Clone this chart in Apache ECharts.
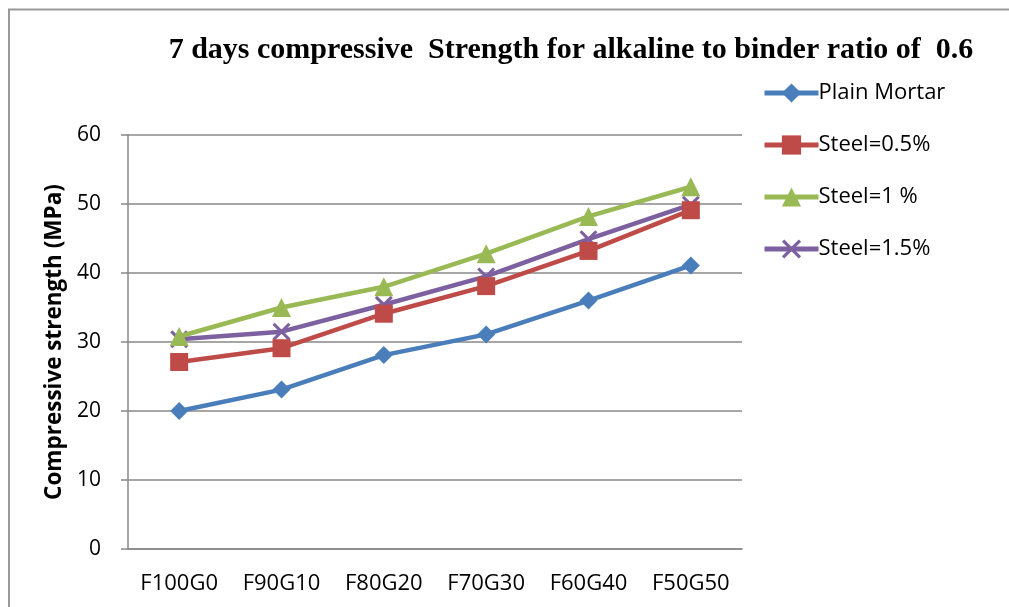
<!DOCTYPE html>
<html><head><meta charset="utf-8">
<script src="https://cdn.jsdelivr.net/npm/echarts@6/dist/echarts.min.js"></script>
<style>html,body{margin:0;padding:0;background:#fff}#c{width:1009px;height:607px}</style>
</head><body><div id="c"></div>
<script>
const categories = ['F100G0','F90G10','F80G20','F70G30','F60G40','F50G50'];
const plainMortar = [20, 23.1, 28.1, 31.1, 36.0, 41.1];
const steel05 = [27.1, 29.1, 34.1, 38.1, 43.2, 49.1];
const steel1 = [30.8, 35.0, 38.0, 42.8, 48.2, 52.5];
const steel15 = [30.4, 31.5, 35.4, 39.5, 44.9, 49.9];
const yTicks = [0, 10, 20, 30, 40, 50, 60];
const seriesNames = ['Plain Mortar','Steel=0.5%','Steel=1 %','Steel=1.5%'];

const xPath = 'path://M0,1.2L1.2,0L5,3.8L8.8,0L10,1.2L6.2,5L10,8.8L8.8,10L5,6.2L1.2,10L0,8.8L3.8,5Z';
const colors = ['#4A7EBB','#BE4B48','#98B954','#7D60A0'];
const symbols = ['diamond','rect','triangle',xPath];
const sizes = [18,18,19,18];
const datas = [plainMortar, steel05, steel1, steel15];

const chart = echarts.init(document.getElementById('c'));
chart.setOption({
  animation:false,
  color: colors,
  graphic:[{type:'rect',shape:{x:9,y:9.5,width:1100,height:700},style:{fill:'none',stroke:'#999',lineWidth:2},silent:true}],
  title:{text:'7 days compressive  Strength for alkaline to binder ratio of  0.6',left:566,textAlign:'center',top:30,
    textStyle:{fontFamily:'Liberation Serif',fontWeight:'bold',fontSize:30,color:'#000'}},
  legend:{orient:'vertical',left:757,top:77,itemGap:30,itemWidth:54,itemHeight:24,
    textStyle:{fontFamily:'Open Sans',fontSize:22,color:'#000',padding:[0,0,0,-5]},
    data:seriesNames.map((n,i)=>({name:n,itemStyle:{color:colors[i]},lineStyle:{width:5,color:colors[i]}}))},
  grid:{left:128,right:267,top:135,bottom:58,containLabel:false},
  xAxis:{type:'category',data:categories,boundaryGap:true,
    axisLine:{lineStyle:{color:'#888',width:1.5}},axisTick:{show:false},
    axisLabel:{fontFamily:'Open Sans',fontSize:22,color:'#000',margin:24}},
  yAxis:{type:'value',min:0,max:60,interval:10,
    name:'Compressive strength (MPa)',nameLocation:'middle',nameGap:56,
    nameTextStyle:{fontFamily:'Open Sans',fontWeight:'bold',fontSize:22.5,color:'#000'},
    axisLine:{show:true,lineStyle:{color:'#888',width:1.5}},
    axisTick:{show:true,length:7,lineStyle:{color:'#888',width:1.5}},
    splitLine:{lineStyle:{color:'#888',width:1.5}},
    axisLabel:{fontFamily:'Open Sans',fontSize:21,color:'#000',margin:27,
      formatter:v=>yTicks.includes(v)?String(v):''}},
  series: seriesNames.map((n,i)=>({
    name:n,type:'line',data:datas[i],symbol:symbols[i],symbolSize:sizes[i],
    lineStyle:{width:4.5,color:colors[i]},itemStyle:{color:colors[i]},z:10-i
  }))
});
</script></body></html>
